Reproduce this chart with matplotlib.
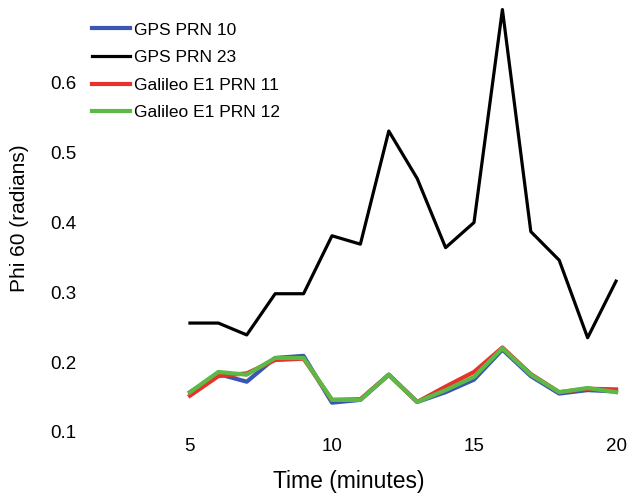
import matplotlib
matplotlib.use("Agg")
import matplotlib.pyplot as plt

plt.rcParams["font.family"] = ["Liberation Sans", "DejaVu Sans"]

# time axis (minutes)
minutes = [5, 6, 7, 8, 9, 10, 11, 12, 13, 14, 15, 16, 17, 18, 19, 20]

# phase scintillation index per satellite
gps_prn10 = [0.157, 0.183, 0.172, 0.206, 0.209, 0.142, 0.146, 0.182, 0.143, 0.157, 0.175, 0.218, 0.180, 0.155, 0.160, 0.158]
gps_prn23 = [0.256, 0.256, 0.239, 0.298, 0.298, 0.381, 0.369, 0.531, 0.463, 0.364, 0.400, 0.705, 0.387, 0.346, 0.235, 0.316]
gal_prn11 = [0.152, 0.180, 0.184, 0.203, 0.205, 0.146, 0.147, 0.182, 0.143, 0.165, 0.186, 0.221, 0.183, 0.157, 0.162, 0.161]
gal_prn12 = [0.157, 0.186, 0.182, 0.206, 0.206, 0.146, 0.146, 0.182, 0.143, 0.160, 0.179, 0.220, 0.182, 0.157, 0.163, 0.157]

fig = plt.figure(figsize=(6.27, 4.97), dpi=100)
ax = fig.add_axes([0.1308, 0.1308, 0.8517, 0.843])

ax.plot(minutes, gps_prn10, color="#3a55b4", lw=3.0, label="GPS PRN 10", clip_on=False)
ax.plot(minutes, gps_prn23, color="black", lw=2.3, label="GPS PRN 23", clip_on=False)
ax.plot(minutes, gal_prn11, color="#e8302c", lw=3.0, label="Galileo E1 PRN 11", clip_on=False)
ax.plot(minutes, gal_prn12, color="#5cb946", lw=3.0, label="Galileo E1 PRN 12", clip_on=False)

ax.set_xlim(1.2, 20)
ax.set_ylim(0.1, 0.7)
ax.set_xticks([5, 10, 15, 20])
ax.set_yticks([0.1, 0.2, 0.3, 0.4, 0.5, 0.6])
for s in ax.spines.values():
    s.set_visible(False)
ax.tick_params(length=0, labelsize=13.5, pad=4)

ax.set_xlabel("Time (minutes)", fontsize=16.5, labelpad=11)
ax.set_ylabel("Phi 60 (radians)", fontsize=15)
ax.yaxis.set_label_coords(-0.1, 0.51)

# legend sits just right of the y tick labels, no frame
ax.legend(loc="upper left", bbox_to_anchor=(-0.01, 1.015), frameon=False,
          fontsize=12.5, handlelength=2.2, handletextpad=0.2, labelspacing=0.72)

fig.savefig("out.png", dpi=100)
